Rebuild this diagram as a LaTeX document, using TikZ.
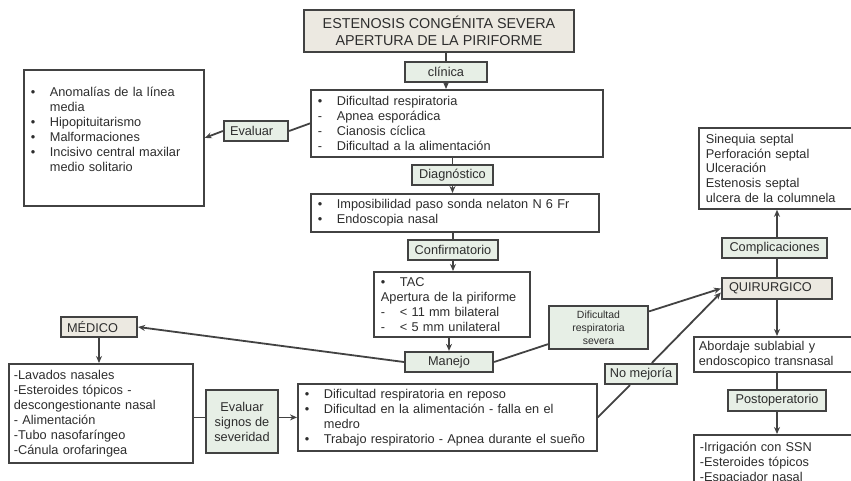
\documentclass[tikz,border=0pt]{standalone}
\usepackage{fontspec}
\setmainfont{Liberation Sans}
\usepackage{tikz}
\usetikzlibrary{arrows.meta,positioning,calc}
\definecolor{dxgreen}{RGB}{231,239,230}
\definecolor{dxbeige}{RGB}{236,233,225}
\definecolor{dxline}{RGB}{66,66,66}
\definecolor{dxtext}{RGB}{45,45,45}
\newcommand{\bl}[1]{\makebox[19bp][l]{#1}}

\begin{document}
\begin{tikzpicture}[x=1bp,y=-1bp,font=\fontsize{12.8}{15}\selectfont,text=dxtext,
  wb/.style={rectangle,draw=dxline,line width=1.8bp,fill=white,align=left,inner xsep=7bp,inner ysep=0pt,anchor=north west},
  lb/.style={rectangle,draw=dxline,line width=2.2bp,fill=dxgreen,align=center,minimum height=20bp,inner sep=0pt},
  arr/.style={-{Stealth[length=7bp,width=6bp]},line width=1.8bp,draw=dxline},
  ln/.style={line width=1.8bp,draw=dxline}]
\useasboundingbox (0,0) rectangle (851,481);
\node[lb,fill=dxbeige,minimum width=270bp,minimum height=42bp,font=\fontsize{14.4}{17}\selectfont] (tit) at (439,31) {ESTENOSIS CONGÉNITA SEVERA\\APERTURA DE LA PIRIFORME};
\node[lb,minimum width=82bp] (cli) at (446,72) {clínica};
\node[wb,text width=278bp,minimum height=67bp] (sint) at (310,89) {\bl{•}Dificultad respiratoria\\\bl{-}Apnea esporádica\\\bl{-}Cianosis cíclica\\\bl{-}Dificultad a la alimentación};
\node[lb,text width=52bp,align=left,inner xsep=6bp] (ev) at (256,131) {Evaluar};
\node[wb,text width=166bp] (anom) at (23,69) {\parbox[t][136bp][t]{166bp}{\raggedright\vspace*{17bp}\bl{•}Anomalías de la línea\\\bl{}media\\\bl{•}Hipopituitarismo\\\bl{•}Malformaciones\\\bl{•}Incisivo central maxilar\\\bl{}medio solitario}};
\node[lb,minimum width=81bp] (dg) at (452.5,175) {Diagnóstico};
\node[wb,text width=274bp,minimum height=38bp] (dgb) at (310,193) {\bl{•}Imposibilidad paso sonda nelaton N 6 Fr\\\bl{•}Endoscopia nasal};
\node[lb,minimum width=90bp] (cf) at (453,250) {Confirmatorio};
\node[wb,text width=142bp,minimum height=65bp] (tac) at (373,271) {\bl{•}TAC\\Apertura de la piriforme\\\bl{-}< 11 mm bilateral\\\bl{-}< 5 mm unilateral};
\node[lb,minimum width=88bp] (mj) at (449,362) {Manejo};
\node[lb,fill=dxbeige,text width=64bp,align=left,inner xsep=6bp] (md) at (99,327) {MÉDICO};
\node[wb,text width=174bp,minimum height=99bp,inner xsep=5bp] (mdb) at (8,363) {-Lavados nasales\\-Esteroides tópicos -\\descongestionante nasal\\- Alimentación\\-Tubo nasofaríngeo\\-Cánula orofaringea};
\node[lb,minimum width=72bp,minimum height=63bp] (es) at (242,421.5) {Evaluar\\signos de\\severidad};
\node[wb,text width=285bp,minimum height=67bp] (sv) at (297,383) {\bl{•}Dificultad respiratoria en reposo\\\bl{•}Dificultad en la alimentación - falla en el\\\bl{}medro\\\bl{•}Trabajo respiratorio - Apnea durante el sueño};
\node[lb,minimum width=99bp,minimum height=43bp,font=\fontsize{10.5}{13}\selectfont] (drs) at (598.5,327.5) {Dificultad\\respiratoria\\severa};
\node[lb,minimum width=72bp] (nm) at (641,374) {No mejoría};
\node[lb,fill=dxbeige,text width=96bp,align=left,inner xsep=7bp,minimum height=21bp] (qx) at (777,288.5) {QUIRURGICO};
\node[lb,minimum width=105bp] (cp) at (774.5,248) {Complicaciones};
\node[wb,text width=145bp,minimum height=81bp] (cpb) at (698,127) {Sinequia septal\\Perforación septal\\Ulceración\\Estenosis septal\\ulcera de la columnela};
\node[wb,text width=154bp,minimum height=35bp,inner xsep=5bp] (ab) at (693,336) {Abordaje sublabial y\\endoscopico transnasal};
\node[lb,minimum width=98bp,minimum height=21bp] (po) at (777,400.5) {Postoperatorio};
\node[wb,text width=152bp,minimum height=56bp,inner xsep=6bp] (pob) at (693,434) {-Irrigación con SSN\\-Esteroides tópicos\\-Espaciador nasal};
\draw[ln] (cli.north) -- (cli.north |- tit.south); \draw[arr] (cli.south) -- (cli.south |- sint.north);
\draw[ln] (dg.north) -- (dg.north |- sint.south); \draw[arr] (dg.south) -- (dg.south |- dgb.north);
\draw[ln] (cf.north) -- (cf.north |- dgb.south); \draw[arr] (cf.south) -- (cf.south |- tac.north);
\draw[arr] (mj.north |- tac.south) -- (mj.north);
\draw[ln] (sint.west) -- (ev.east); \draw[arr] (ev.west) -- (anom.east);
\draw[arr] (mj.west) -- (md.east); \draw[arr] (md.south) -- (md.south |- mdb.north);
\draw[ln] (mdb.east |- sv.west) -- (es.west |- sv.west); \draw[arr] (es.east |- sv.west) -- (sv.west);
\draw[ln] (mj.east) -- (drs); \draw[arr] (drs) -- (qx.west);
\draw[ln] (sv.east) -- (nm); \draw[arr] (nm) -- ([yshift=-4bp]qx.west);
\draw[ln] (qx.north) -- (qx.north |- cp.south); \draw[arr] (qx.north |- cp.north) -- (qx.north |- cpb.south);
\draw[arr] (qx.south) -- (qx.south |- ab.north);
\draw[ln] (po.north) -- (po.north |- ab.south); \draw[arr] (po.south) -- (po.south |- pob.north);
\end{tikzpicture}
\end{document}
